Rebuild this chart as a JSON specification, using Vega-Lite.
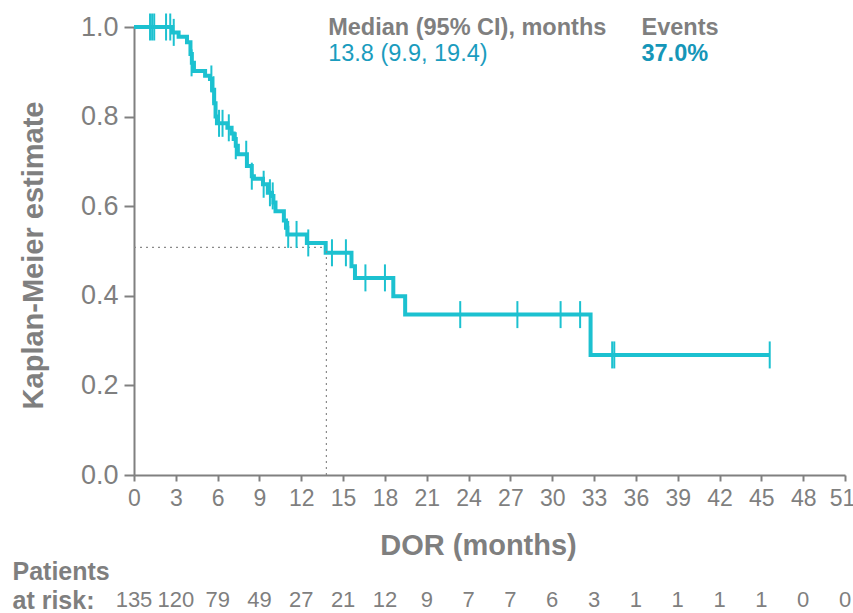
{
  "$schema": "https://vega.github.io/schema/vega-lite/v6.json",
  "padding": {"left": 12, "top": 13, "right": 0, "bottom": 0},
  "bounds": "flush",
  "spacing": 115,
  "config": {"view": {"stroke": null}, "font": "Liberation Sans, Arial, Helvetica, sans-serif"},
  "datasets": {
    "km": [
      {"t": 0, "s": 1.0}, {"t": 2.75, "s": 0.988}, {"t": 3.2, "s": 0.978}, {"t": 3.8, "s": 0.966},
      {"t": 4.05, "s": 0.94}, {"t": 4.15, "s": 0.92}, {"t": 4.3, "s": 0.902}, {"t": 5.1, "s": 0.891},
      {"t": 5.45, "s": 0.884}, {"t": 5.6, "s": 0.86}, {"t": 5.75, "s": 0.83}, {"t": 5.85, "s": 0.8},
      {"t": 5.95, "s": 0.785}, {"t": 6.7, "s": 0.775}, {"t": 7.0, "s": 0.762}, {"t": 7.15, "s": 0.75},
      {"t": 7.3, "s": 0.735}, {"t": 7.45, "s": 0.716}, {"t": 8.1, "s": 0.69}, {"t": 8.45, "s": 0.667},
      {"t": 8.6, "s": 0.661}, {"t": 9.25, "s": 0.649}, {"t": 9.6, "s": 0.63}, {"t": 9.9, "s": 0.623},
      {"t": 10.0, "s": 0.608}, {"t": 10.15, "s": 0.589}, {"t": 10.75, "s": 0.568}, {"t": 10.9, "s": 0.552},
      {"t": 11.0, "s": 0.537}, {"t": 12.4, "s": 0.518}, {"t": 13.75, "s": 0.496}, {"t": 15.6, "s": 0.466},
      {"t": 15.85, "s": 0.44}, {"t": 18.6, "s": 0.399}, {"t": 19.45, "s": 0.358}, {"t": 32.75, "s": 0.268},
      {"t": 45.6, "s": 0.268}
    ],
    "censor": [
      {"t": 1.15, "s": 1.0}, {"t": 1.3, "s": 1.0}, {"t": 1.45, "s": 1.0}, {"t": 2.3, "s": 1.0},
      {"t": 2.6, "s": 1.0}, {"t": 2.85, "s": 0.988}, {"t": 4.13, "s": 0.92}, {"t": 5.55, "s": 0.884},
      {"t": 5.7, "s": 0.86}, {"t": 6.1, "s": 0.785}, {"t": 6.35, "s": 0.785}, {"t": 6.8, "s": 0.775},
      {"t": 7.3, "s": 0.735}, {"t": 8.05, "s": 0.716}, {"t": 8.45, "s": 0.667}, {"t": 9.3, "s": 0.649},
      {"t": 9.75, "s": 0.63}, {"t": 9.95, "s": 0.623}, {"t": 11.06, "s": 0.537}, {"t": 11.66, "s": 0.537},
      {"t": 12.5, "s": 0.518}, {"t": 14.2, "s": 0.496}, {"t": 15.2, "s": 0.496}, {"t": 16.6, "s": 0.44},
      {"t": 18.0, "s": 0.44}, {"t": 23.4, "s": 0.358}, {"t": 27.5, "s": 0.358}, {"t": 30.6, "s": 0.358},
      {"t": 32.0, "s": 0.358}, {"t": 34.3, "s": 0.268}, {"t": 34.45, "s": 0.268}, {"t": 45.6, "s": 0.268}
    ],
    "median": [{"median": 13.8, "level": 0.508, "from": 0}],
    "atrisk": [
      {"month": 0, "n": 135, "label": "at risk:"}, {"month": 3, "n": 120, "label": "at risk:"},
      {"month": 6, "n": 79, "label": "at risk:"}, {"month": 9, "n": 49, "label": "at risk:"},
      {"month": 12, "n": 27, "label": "at risk:"}, {"month": 15, "n": 21, "label": "at risk:"},
      {"month": 18, "n": 12, "label": "at risk:"}, {"month": 21, "n": 9, "label": "at risk:"},
      {"month": 24, "n": 7, "label": "at risk:"}, {"month": 27, "n": 7, "label": "at risk:"},
      {"month": 30, "n": 6, "label": "at risk:"}, {"month": 33, "n": 3, "label": "at risk:"},
      {"month": 36, "n": 1, "label": "at risk:"}, {"month": 39, "n": 1, "label": "at risk:"},
      {"month": 42, "n": 1, "label": "at risk:"}, {"month": 45, "n": 1, "label": "at risk:"},
      {"month": 48, "n": 0, "label": "at risk:"}, {"month": 51, "n": 0, "label": "at risk:"}
    ]
  },
  "vconcat": [
    {
      "width": 711,
      "height": 448,
      "layer": [
        {
          "data": {"name": "km"},
          "mark": {"type": "line", "interpolate": "step-after", "color": "#1CC1D0", "strokeWidth": 4, "clip": false},
          "encoding": {
            "x": {
              "field": "t", "type": "quantitative",
              "scale": {"domain": [0, 51], "nice": false},
              "axis": {
                "title": "DOR (months)",
                "values": [0, 3, 6, 9, 12, 15, 18, 21, 24, 27, 30, 33, 36, 39, 42, 45, 48, 51],
                "grid": false,
                "domainColor": "#808080", "domainWidth": 2,
                "tickColor": "#808080", "tickWidth": 2, "tickSize": 6,
                "labelFont": "Liberation Sans, Arial, sans-serif", "labelFontSize": 23, "labelColor": "#7f7f7f",
                "labelPadding": 6, "labelFlush": false, "labelOverlap": false, "labelDx": -6,
                "labelOffset": {"condition": {"test": "datum.value === 51", "value": -3}, "value": 0},
                "titleFont": "Liberation Sans, Arial, sans-serif", "titleFontSize": 29, "titleFontWeight": "bold",
                "titleColor": "#7f7f7f", "titleX": 344, "titleY": 79, "titleBaseline": "alphabetic"
              }
            },
            "y": {
              "field": "s", "type": "quantitative",
              "scale": {"domain": [0, 1], "nice": false},
              "axis": {
                "title": "Kaplan-Meier estimate",
                "values": [0, 0.2, 0.4, 0.6, 0.8, 1.0],
                "format": ".1f",
                "grid": false,
                "domainColor": "#808080", "domainWidth": 2,
                "tickColor": "#808080", "tickWidth": 2, "tickSize": 10,
                "labelFont": "Liberation Sans, Arial, sans-serif", "labelFontSize": 27, "labelColor": "#7f7f7f",
                "labelPadding": 6, "labelFlush": false, "labelOverlap": false,
                "titleFont": "Liberation Sans, Arial, sans-serif", "titleFontSize": 29, "titleFontWeight": "bold",
                "titleColor": "#7f7f7f", "titleX": -101, "titleY": 228, "titleBaseline": "middle",
                "titleAlign": "center", "titleAngle": -90
              }
            }
          }
        },
        {
          "data": {"name": "median"},
          "mark": {"type": "rule", "color": "#8a8a8a", "strokeWidth": 1.2, "strokeDash": [2, 4]},
          "encoding": {
            "x": {"field": "from", "type": "quantitative"},
            "x2": {"field": "median"},
            "y": {"field": "level", "type": "quantitative"}
          }
        },
        {
          "data": {"name": "median"},
          "mark": {"type": "rule", "color": "#8a8a8a", "strokeWidth": 1.2, "strokeDash": [2, 4]},
          "encoding": {
            "x": {"field": "median", "type": "quantitative"},
            "y": {"field": "from", "type": "quantitative"},
            "y2": {"field": "level"}
          }
        },
        {
          "data": {"name": "censor"},
          "mark": {"type": "tick", "orient": "vertical", "size": 27, "thickness": 2, "color": "#1CC1D0", "opacity": 1},
          "encoding": {
            "x": {"field": "t", "type": "quantitative"},
            "y": {"field": "s", "type": "quantitative"}
          }
        },
        {
          "data": {"values": [{"label": "Median (95% CI), months"}]},
          "mark": {"type": "text", "align": "left", "baseline": "alphabetic", "fontSize": 23.5, "fontWeight": "bold", "color": "#7f7f7f", "font": "Liberation Sans, Arial, sans-serif"},
          "encoding": {
            "x": {"datum": 13.93, "type": "quantitative"},
            "y": {"datum": 0.983, "type": "quantitative"},
            "text": {"field": "label", "type": "nominal"}
          }
        },
        {
          "data": {"values": [{"label": "Events"}]},
          "mark": {"type": "text", "align": "left", "baseline": "alphabetic", "fontSize": 23.5, "fontWeight": "bold", "color": "#7f7f7f", "font": "Liberation Sans, Arial, sans-serif"},
          "encoding": {
            "x": {"datum": 36.4, "type": "quantitative"},
            "y": {"datum": 0.983, "type": "quantitative"},
            "text": {"field": "label", "type": "nominal"}
          }
        },
        {
          "data": {"values": [{"label": "13.8 (9.9, 19.4)"}]},
          "mark": {"type": "text", "align": "left", "baseline": "alphabetic", "fontSize": 23.5, "color": "#1A9CBE", "font": "Liberation Sans, Arial, sans-serif"},
          "encoding": {
            "x": {"datum": 13.93, "type": "quantitative"},
            "y": {"datum": 0.923, "type": "quantitative"},
            "text": {"field": "label", "type": "nominal"}
          }
        },
        {
          "data": {"values": [{"label": "37.0%"}]},
          "mark": {"type": "text", "align": "left", "baseline": "alphabetic", "fontSize": 23.5, "fontWeight": "bold", "color": "#1596B8", "font": "Liberation Sans, Arial, sans-serif"},
          "encoding": {
            "x": {"datum": 36.4, "type": "quantitative"},
            "y": {"datum": 0.923, "type": "quantitative"},
            "text": {"field": "label", "type": "nominal"}
          }
        }
      ]
    },
    {
      "width": 711,
      "height": 20,
      "data": {"name": "atrisk"},
      "mark": {"type": "text", "fontSize": 22, "color": "#7f7f7f", "font": "Liberation Sans, Arial, sans-serif"},
      "encoding": {
        "x": {"field": "month", "type": "quantitative", "scale": {"domain": [0, 51], "nice": false}, "axis": null},
        "y": {
          "field": "label", "type": "nominal",
          "axis": {
            "title": "Patients", "titleAngle": 0, "titleAlign": "left", "titleBaseline": "middle",
            "titleX": -122, "titleY": -19, "titleFont": "Liberation Sans, Arial, sans-serif", "titleFontSize": 25,
            "titleFontWeight": "bold", "titleColor": "#7f7f7f",
            "labelAlign": "left", "labelPadding": 122, "labelFont": "Liberation Sans, Arial, sans-serif", "labelFontSize": 25,
            "labelFontWeight": "bold", "labelColor": "#7f7f7f",
            "ticks": false, "tickSize": 0, "domain": false
          }
        },
        "text": {"field": "n", "type": "quantitative"}
      }
    }
  ]
}
